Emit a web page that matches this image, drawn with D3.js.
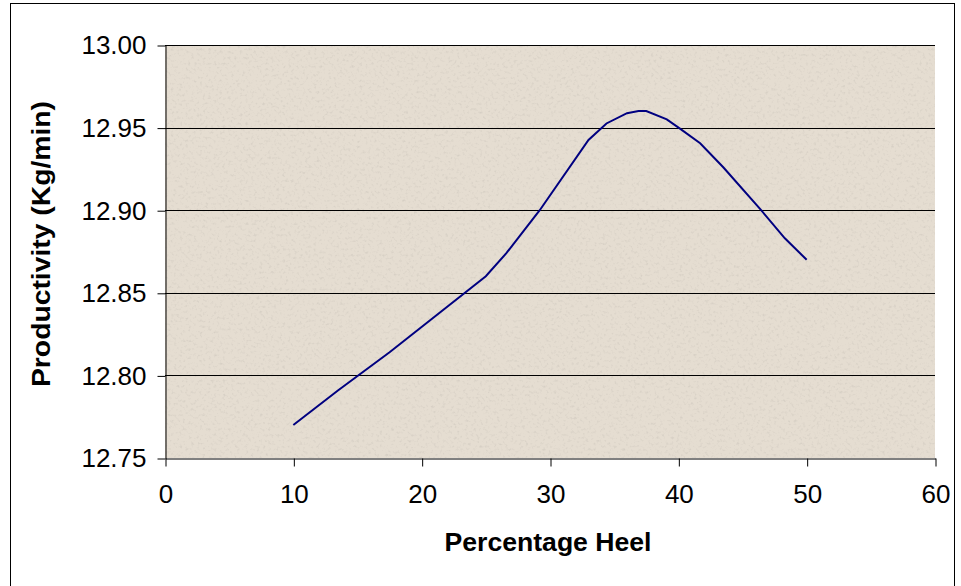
<!DOCTYPE html>
<meta charset="UTF-8">
<style>
body { margin: 0; background: #fff; }
.tick text { font: 26px "Liberation Sans", Arial, sans-serif; fill: #000; }
.title { font: bold 25px "Liberation Sans", Arial, sans-serif; fill: #000; }
.line { fill: none; stroke: #000080; stroke-width: 2px; }
.grid line { stroke: #000; stroke-width: 1px; }
</style>
<body>
<script src="https://cdn.jsdelivr.net/npm/d3@7"></script>
<script>

// values
var heel = [10, 13.5, 17.5, 25, 26.6, 29.2, 33, 34.4, 36, 36.9, 37.5, 39.1, 40.1, 41.7, 43.5, 46.4, 48.3, 50];
var productivity = [12.770, 12.791, 12.814, 12.860, 12.874, 12.900, 12.9425, 12.9525, 12.9587, 12.960, 12.960, 12.955, 12.9495, 12.9405, 12.926, 12.9005, 12.883, 12.870];
var xTicks = [0, 10, 20, 30, 40, 50, 60];
var yTicks = [12.75, 12.80, 12.85, 12.90, 12.95, 13.00];

var W = 961, H = 586;
var plot = {left: 165, top: 45, right: 935, bottom: 458};

var svg = d3.select("body").append("svg")
    .attr("width", W)
    .attr("height", H);

// outer frame
svg.append("rect")
    .attr("x", 10.5).attr("y", 3.5)
    .attr("width", 944).attr("height", 600)
    .attr("fill", "#fff")
    .attr("stroke", "#000").attr("stroke-width", 1);

var x = d3.scaleLinear().domain([0, 60]).range([plot.left, plot.right]);
var y = d3.scaleLinear().domain([12.75, 13.00]).range([plot.bottom, plot.top]);

// speckled beige background
var defs = svg.append("defs");
var f = defs.append("filter").attr("id", "speck")
    .attr("x", 0).attr("y", 0).attr("width", 1).attr("height", 1);
f.append("feTurbulence").attr("type", "fractalNoise")
    .attr("baseFrequency", 0.35).attr("numOctaves", 2).attr("seed", 7).attr("result", "n");
f.append("feColorMatrix").attr("in", "n").attr("type", "matrix")
    .attr("values", "0 0 0 0 0.45  0 0 0 0 0.42  0 0 0 0 0.38  -1.6 0 0 0 0.75")
    .attr("result", "c");
f.append("feComposite").attr("in", "c").attr("in2", "SourceGraphic").attr("operator", "in");

svg.append("rect")
    .attr("x", plot.left).attr("y", plot.top)
    .attr("width", plot.right - plot.left).attr("height", plot.bottom - plot.top)
    .attr("fill", "#e5ddd1");
svg.append("rect")
    .attr("x", plot.left).attr("y", plot.top)
    .attr("width", plot.right - plot.left).attr("height", plot.bottom - plot.top)
    .attr("fill", "#e5ddd1")
    .attr("filter", "url(#speck)")
    .attr("opacity", 0.5);

// horizontal gridlines
svg.append("g").attr("class", "grid")
  .selectAll("line")
  .data(yTicks.slice(1))
  .enter().append("line")
    .attr("x1", plot.left).attr("x2", plot.right)
    .attr("y1", function(d) { return Math.round(y(d)) + 0.5; })
    .attr("y2", function(d) { return Math.round(y(d)) + 0.5; });

// axes
svg.append("g")
    .attr("transform", "translate(" + (plot.left + 0.5) + ",0.5)")
    .call(d3.axisLeft(y).tickValues(yTicks).tickFormat(d3.format(".2f"))
      .tickSize(8).tickSizeOuter(0).tickPadding(11));

svg.append("g")
    .attr("transform", "translate(0.5," + (plot.bottom + 0.5) + ")")
    .call(d3.axisBottom(x).tickValues(xTicks).tickFormat(d3.format("d"))
      .tickSize(8).tickSizeOuter(0).tickPadding(18));

svg.selectAll(".domain, .tick line").attr("stroke", "#000").attr("stroke-width", 1);

// the curve
var pts = heel.map(function(h, i) { return [h, productivity[i]]; });
svg.append("path")
    .datum(pts)
    .attr("class", "line")
    .attr("d", d3.line()
      .x(function(d) { return x(d[0]); })
      .y(function(d) { return y(d[1]); }));

// titles
svg.append("text")
    .attr("class", "title")
    .attr("x", 548)
    .attr("y", 551)
    .attr("text-anchor", "middle")
    .attr("textLength", 207)
    .attr("lengthAdjust", "spacingAndGlyphs")
    .text("Percentage Heel");

svg.append("text")
    .attr("class", "title")
    .attr("transform", "translate(50,244) rotate(-90)")
    .attr("text-anchor", "middle")
    .attr("textLength", 286)
    .attr("lengthAdjust", "spacingAndGlyphs")
    .text("Productivity (Kg/min)");

</script>
</body>
